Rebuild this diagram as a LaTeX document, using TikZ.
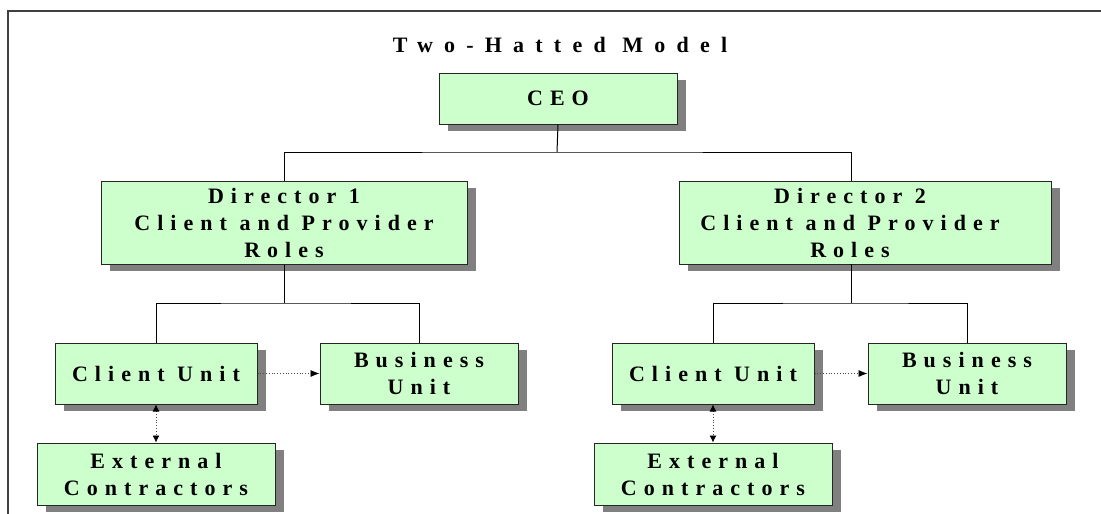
\documentclass[tikz,border=0pt]{standalone}
\usepackage{fontspec}
\usetikzlibrary{shadows,arrows.meta}
\newfontfamily\spaced[LetterSpace=32]{Liberation Serif}
\newfontfamily\titlespaced[LetterSpace=51]{Liberation Serif}
\definecolor{boxgreen}{HTML}{CCFFCC}
\definecolor{framegray}{HTML}{404040}
\tikzset{
  boxfont/.style={font=\spaced\bfseries\fontsize{22}{27}\selectfont},
  box/.style={draw=black!85, line width=1pt, fill=boxgreen, inner sep=0pt, align=center, boxfont,
    drop shadow={shadow xshift=9pt, shadow yshift=-7pt, fill=black!50, opacity=1}},
  tree/.style={draw=black, line width=1pt},
  dotarrow/.style={draw=black!70, line width=0.8pt, dotted, -{Latex[length=9pt,width=7pt,black]}},
  dotboth/.style={draw=black!70, line width=0.8pt, dotted, {Latex[length=7pt,width=7pt,black]}-{Latex[length=7pt,width=7pt,black]}},
  titletext/.style={font=\titlespaced\bfseries\fontsize{22}{27}\selectfont, inner sep=0pt}
}
\begin{document}
\begin{tikzpicture}[x=1pt,y=-1pt]
\useasboundingbox (0,0) rectangle (1101,514);
\fill[white] (0,0) rectangle (1101,514);
\draw[framegray, line width=2.2pt] (8,514) -- (8,11) -- (1101,11);

\node[titletext] (title) at (560,45) {Two-Hatted Model};

\node[box, minimum width=238pt, minimum height=51pt] (ceo) at (558,98.5) {CEO};
\node[box, minimum width=366pt, minimum height=83pt] (d1) at (284,222.5) {Director 1\\Client and Provider\\Roles};
\node[box, minimum width=372pt, minimum height=83pt,
  label={[boxfont, align=center, inner sep=0pt, xshift=-15pt]center:Director 2\\Client and Provider\\Roles}] (d2) at (865,222.5) {};

\node[box, minimum width=202pt, minimum height=61pt] (cu1) at (156,373.5) {Client Unit};
\node[box, minimum width=198pt, minimum height=61pt] (bu1) at (419,373.5) {Business\\Unit};
\node[box, minimum width=238pt, minimum height=62pt] (ec1) at (156,474) {External\\Contractors};

\node[box, minimum width=202pt, minimum height=61pt] (cu2) at (713,373.5) {Client Unit};
\node[box, minimum width=198pt, minimum height=61pt] (bu2) at (967,373.5) {Business\\Unit};
\node[box, minimum width=238pt, minimum height=62pt] (ec2) at (713,474) {External\\Contractors};

\coordinate (top) at (557,152);
\coordinate (d2top) at (851,181);
\coordinate (d2bot) at (851,264);
\coordinate (mid1) at (284,303);
\coordinate (mid2) at (851,303);

\draw[tree] (ceo.south) -- (top);
\draw[tree] (d1.north) |- (top) -| (d2top);

\draw[tree] (d1.south) -- (mid1);
\draw[tree] (cu1.north) |- (mid1) -| (bu1.north);
\draw[tree] (d2bot) -- (mid2);
\draw[tree] (cu2.north) |- (mid2) -| (bu2.north);

\draw[dotarrow] (cu1.east) -- (bu1.west);
\draw[dotarrow] (cu2.east) -- (bu2.west);
\draw[dotboth] (cu1.south) -- (ec1.north);
\draw[dotboth] (cu2.south) -- (ec2.north);
\end{tikzpicture}
\end{document}
